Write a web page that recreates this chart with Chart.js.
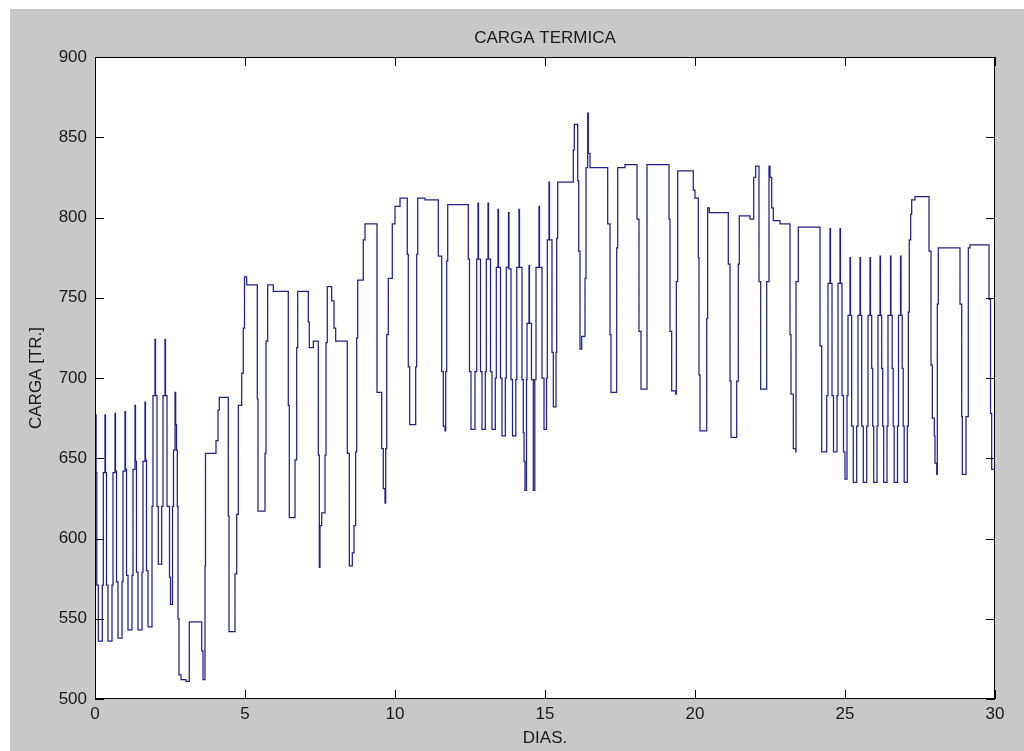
<!DOCTYPE html>
<html>
<head>
<meta charset="utf-8">
<title>CARGA TERMICA</title>
<script src="https://cdn.jsdelivr.net/npm/chart.js@4.4.1/dist/chart.umd.min.js"></script>
<style>
  html, body { margin: 0; padding: 0; background: #fff; }
  canvas { display: block; }
</style>
</head>
<body>
<canvas id="cargaChart" width="1024" height="751"></canvas>
<script>
// [dia, carga TR] -- each point starts a new level (stepped line)
const semana1 = [
  [0, 641], [0.02, 677], [0.037, 641], [0.06, 571], [0.11, 536], [0.243, 571], [0.277, 641],
  [0.333, 677], [0.35, 641], [0.383, 571], [0.433, 536], [0.567, 571], [0.6, 641],
  [0.667, 678], [0.683, 642], [0.717, 573], [0.767, 538], [0.9, 573], [0.933, 642],
  [1.0, 679], [1.017, 643], [1.05, 577], [1.1, 543], [1.233, 577], [1.267, 643],
  [1.333, 683], [1.35, 648], [1.383, 579], [1.433, 543], [1.567, 579], [1.6, 648],
  [1.667, 685], [1.683, 649], [1.717, 580], [1.767, 545], [1.9, 620], [1.933, 689],
  [2.0, 724], [2.017, 689], [2.067, 620], [2.11, 584], [2.223, 620], [2.267, 689],
  [2.333, 724], [2.35, 689], [2.4, 620], [2.483, 576], [2.517, 559], [2.583, 620], [2.617, 655],
  [2.667, 691], [2.69, 671], [2.717, 655], [2.743, 620], [2.767, 550], [2.8, 515], [2.867, 512],
  [3.033, 511], [3.143, 548], [3.557, 530], [3.6, 512], [3.667, 583], [3.683, 653], [4.033, 661],
  [4.1, 680], [4.143, 688], [4.443, 614], [4.467, 542], [4.667, 578], [4.723, 615], [4.777, 683],
  [4.89, 703], [4.943, 731], [4.983, 763], [5.057, 758], [5.41, 687], [5.433, 617], [5.667, 653],
  [5.7, 723], [5.757, 758], [5.943, 754], [6.443, 683], [6.477, 613], [6.667, 649], [6.723, 719],
  [6.757, 754]
];

const semana2 = [
  [7.11, 735], [7.143, 719], [7.277, 723], [7.443, 652], [7.477, 582], [7.5, 608], [7.557, 616],
  [7.667, 652], [7.7, 722], [7.743, 757], [7.89, 748], [7.967, 731], [8.023, 723], [8.41, 653],
  [8.477, 583], [8.577, 591], [8.633, 608], [8.69, 654], [8.723, 725], [8.757, 761], [8.943, 786],
  [9.0, 796], [9.4, 691], [9.557, 656], [9.61, 631], [9.667, 622], [9.69, 656], [9.723, 727],
  [9.777, 762], [9.91, 796], [10.0, 807], [10.167, 812], [10.41, 777], [10.443, 707], [10.49, 671],
  [10.69, 707], [10.723, 777], [10.757, 812], [11.0, 811], [11.443, 776], [11.557, 704], [11.61, 670],
  [11.667, 667], [11.69, 704], [11.723, 773], [11.757, 808], [12.443, 774], [12.483, 704],
  [12.533, 668], [12.667, 704], [12.723, 774],
  [12.767, 809], [12.783, 774], [12.85, 704], [12.9, 668], [13.01, 704], [13.043, 774],
  [13.1, 809], [13.117, 774], [13.183, 704], [13.233, 668], [13.343, 700], [13.377, 769],
  [13.433, 805], [13.45, 769], [13.517, 700], [13.567, 664], [13.677, 700], [13.71, 769],
  [13.783, 803], [13.8, 768], [13.867, 699], [13.917, 664]
];

const semana3 = [
  [14.027, 699], [14.06, 769],
  [14.133, 805], [14.15, 769], [14.233, 699], [14.277, 666], [14.3, 648], [14.333, 630],
  [14.383, 699], [14.4, 734], [14.467, 770], [14.483, 734], [14.55, 699], [14.61, 630],
  [14.66, 699], [14.7, 769],
  [14.8, 807], [14.817, 769], [14.9, 700], [14.967, 668], [15.05, 700], [15.077, 786],
  [15.133, 822], [15.15, 786], [15.233, 716], [15.277, 682], [15.367, 716], [15.39, 787],
  [15.423, 822], [15.943, 842], [15.977, 858], [16.09, 823], [16.123, 779], [16.167, 718],
  [16.223, 726], [16.333, 762], [16.367, 831], [16.423, 865], [16.443, 840], [16.5, 831],
  [17.09, 796], [17.167, 727], [17.2, 691], [17.39, 781], [17.423, 831], [17.667, 833],
  [18.067, 799], [18.133, 729], [18.2, 693], [18.4, 833], [19.133, 799], [19.167, 729],
  [19.223, 692], [19.357, 690], [19.377, 760], [19.423, 829], [19.943, 817], [20.0, 812],
  [20.11, 775], [20.133, 702], [20.167, 667], [20.39, 737], [20.423, 806], [20.477, 803]
];

const semana4 = [
  [21.11, 771], [21.167, 698], [21.2, 663], [21.39, 698], [21.443, 771], [21.477, 801],
  [21.833, 799], [21.957, 825], [22.023, 832], [22.133, 760], [22.19, 693], [22.39, 760],
  [22.467, 832], [22.5, 825], [22.557, 806], [22.61, 798], [22.833, 796], [23.167, 727],
  [23.2, 690], [23.277, 656], [23.357, 654], [23.367, 760], [23.443, 794], [24.167, 720],
  [24.223, 654], [24.39, 689], [24.433, 759], [24.5, 793], [24.517, 759], [24.567, 689],
  [24.617, 654], [24.733, 689], [24.767, 759], [24.833, 793], [24.85, 759], [24.9, 689],
  [24.95, 654], [25.0, 637], [25.067, 689], [25.1, 739],
  [25.167, 775], [25.183, 739], [25.223, 670], [25.277, 635], [25.39, 670], [25.433, 739],
  [25.5, 775], [25.517, 739], [25.557, 670], [25.61, 635], [25.723, 670], [25.767, 739],
  [25.833, 775], [25.85, 739], [25.89, 706], [25.923, 670], [25.957, 635], [26.067, 670], [26.1, 739],
  [26.167, 776], [26.183, 739], [26.223, 706], [26.257, 670], [26.29, 635], [26.4, 670], [26.433, 739],
  [26.517, 776], [26.533, 739], [26.573, 706], [26.607, 670], [26.64, 635], [26.75, 670], [26.783, 739],
  [26.85, 776], [26.867, 739], [26.907, 706], [26.94, 670], [26.973, 635], [27.077, 670],
  [27.11, 741], [27.143, 786], [27.19, 802], [27.223, 811], [27.333, 813], [27.8, 779],
  [27.867, 708], [27.91, 675], [27.977, 664], [28.0, 647], [28.057, 640], [28.077, 746],
  [28.11, 781], [28.833, 746], [28.89, 676], [28.91, 640], [29.033, 676], [29.11, 781],
  [29.167, 783], [29.8, 749], [29.85, 678], [29.89, 643], [30, 643]
];

const diasTicks = [0, 5, 10, 15, 20, 25, 30];
const cargaTicks = [500, 550, 600, 650, 700, 750, 800, 850, 900];

const FONT = { family: "'Liberation Sans', Arial, sans-serif", size: 17 };
const TICK_LEN = 9;

// MATLAB-like figure: grey frame, white axes, box with inward ticks
const marco = {
  id: "marco",
  beforeDraw(chart) {
    const { ctx, chartArea: a } = chart;
    ctx.save();
    ctx.fillStyle = "#fff";
    ctx.fillRect(0, 0, chart.width, chart.height);
    ctx.fillStyle = "#c8c8c8";
    ctx.fillRect(10, 9, chart.width - 10, chart.height - 9);
    ctx.fillStyle = "#fff";
    ctx.fillRect(a.left, a.top, a.right - a.left, a.bottom - a.top);
    ctx.restore();
  },
  afterDraw(chart) {
    const { ctx, chartArea: a, scales } = chart;
    ctx.save();
    ctx.strokeStyle = "#000";
    ctx.lineWidth = 1;
    ctx.strokeRect(a.left + 0.5, a.top + 0.5, a.right - a.left - 1, a.bottom - a.top - 1);
    ctx.beginPath();
    diasTicks.forEach((v) => {
      const px = Math.round(scales.x.getPixelForValue(v)) + 0.5;
      ctx.moveTo(px, a.bottom);
      ctx.lineTo(px, a.bottom - TICK_LEN);
      ctx.moveTo(px, a.top);
      ctx.lineTo(px, a.top + TICK_LEN);
    });
    cargaTicks.forEach((v) => {
      const py = Math.round(scales.y.getPixelForValue(v)) + 0.5;
      ctx.moveTo(a.left, py);
      ctx.lineTo(a.left + TICK_LEN, py);
      ctx.moveTo(a.right, py);
      ctx.lineTo(a.right - TICK_LEN, py);
    });
    ctx.stroke();
    ctx.restore();
  },
};

const puntos = [...semana1, ...semana2, ...semana3, ...semana4].map(([x, y]) => ({ x, y }));

new Chart(document.getElementById("cargaChart").getContext("2d"), {
  type: "line",
  data: {
    datasets: [
      {
        data: puntos,
        stepped: true,
        borderColor: "#20208c",
        borderWidth: 1.25,
        pointRadius: 0,
        fill: false,
      },
    ],
  },
  options: {
    responsive: false,
    animation: false,
    devicePixelRatio: 1,
    layout: { padding: { top: 0, right: 29, bottom: 0, left: 0 } },
    plugins: {
      legend: { display: false },
      tooltip: { enabled: false },
      title: {
        display: true,
        text: "CARGA TERMICA",
        fullSize: false,
        color: "#1a1a1a",
        font: { ...FONT, weight: "normal" },
        padding: { top: 27.8, bottom: 8.8 },
      },
    },
    scales: {
      x: {
        type: "linear",
        min: 0,
        max: 30,
        afterBuildTicks: (s) => { s.ticks = diasTicks.map((v) => ({ value: v })); },
        afterFit: (s) => { s.height = 52; },
        grid: { display: false, drawTicks: false },
        border: { display: false },
        ticks: { color: "#1a1a1a", font: FONT, padding: 5, maxRotation: 0, autoSkip: false },
        title: { display: true, text: "DIAS.", color: "#1a1a1a", font: FONT, padding: { top: 0, bottom: 2.5 } },
      },
      y: {
        type: "linear",
        min: 500,
        max: 900,
        afterBuildTicks: (s) => { s.ticks = cargaTicks.map((v) => ({ value: v })); },
        afterFit: (s) => { s.width = 95; },
        grid: { display: false, drawTicks: false },
        border: { display: false },
        ticks: { color: "#1a1a1a", font: FONT, padding: 8 },
        title: { display: true, text: "CARGA [TR.]", color: "#1a1a1a", font: FONT, padding: { top: 25.8, bottom: 0 } },
      },
    },
  },
  plugins: [marco],
});
</script>
</body>
</html>
